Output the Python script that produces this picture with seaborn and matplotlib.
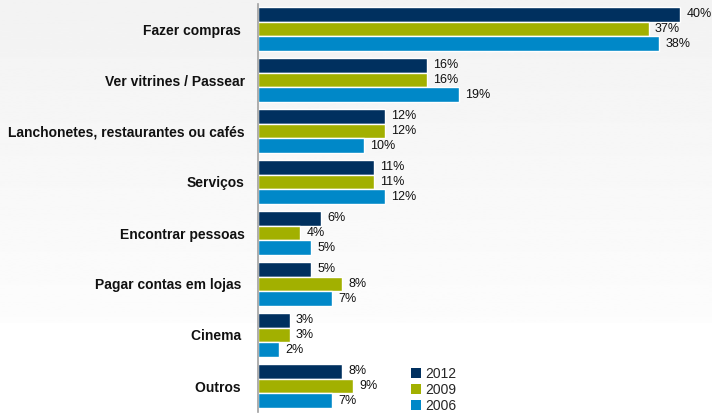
import numpy as np
import pandas as pd
import matplotlib
matplotlib.use("Agg")
import matplotlib.pyplot as plt
import seaborn as sns
from matplotlib.patches import Patch

categories = ["Fazer compras ", "Ver vitrines / Passear", "Lanchonetes, restaurantes ou cafés",
              "Serviços", "Encontrar pessoas", "Pagar contas em lojas ", "Cinema ", "Outros "]
years = ["2012", "2009", "2006"]
v2012 = [40, 16, 12, 11, 6, 5, 3, 8]
v2009 = [37, 16, 12, 11, 4, 8, 3, 9]
v2006 = [38, 19, 10, 12, 5, 7, 2, 7]
colors = ["#00305f", "#a2b000", "#0088c8"]

rows = []
for y, vals in zip(years, [v2012, v2009, v2006]):
    for c, v in zip(categories, vals):
        rows.append({"cat": c, "year": y, "val": v})
df = pd.DataFrame(rows)

sns.set_style("white")
plt.rcParams["font.family"] = ["Liberation Sans", "DejaVu Sans"]

fig = plt.figure(figsize=(7.12, 4.13), dpi=100)
fig.patch.set_facecolor("white")
bg = fig.add_axes([0, 0, 1, 1], zorder=-10)
grad = np.linspace(0.95, 1.0, 256).reshape(-1, 1)
grad[200:] = 1.0
bg.imshow(grad, aspect="auto", cmap="gray", vmin=0, vmax=1, extent=[0, 1, 0, 1])
bg.axis("off")

ax = fig.add_axes([258 / 712, 1.5 / 413, 1 - 258 / 712, 408 / 413])
ax.patch.set_alpha(0)
sns.barplot(data=df, y="cat", x="val", hue="year", palette=colors, orient="h",
            width=0.88, gap=0, ax=ax, legend=False, saturation=1)
for cont in ax.containers:
    ax.bar_label(cont, fmt="%d%%", padding=4.5, fontsize=9, color="#111111")
ax.set_xlim(0, 43)
ax.set_ylim(7.5, -0.5)
ax.set_xlabel("")
ax.set_ylabel("")
ax.set_xticks([])
for s in ["top", "right", "bottom"]:
    ax.spines[s].set_visible(False)
ax.spines["left"].set_color("#a0a0a0")
ax.spines["left"].set_linewidth(1.2)
ax.tick_params(axis="y", length=0, pad=9.5)
for lab in ax.get_yticklabels():
    lab.set_fontweight("bold")
    lab.set_fontsize(10)
    lab.set_color("#111111")

handles = [Patch(facecolor=c, edgecolor="none") for c in colors]
fig.legend(handles, years, loc="upper left", bbox_to_anchor=(404 / 712, 1 - 360 / 413),
           frameon=False, fontsize=10, handlelength=0.7, handleheight=0.7,
           handletextpad=0.3, labelspacing=0.15, borderpad=0)

fig.savefig("out.png", dpi=100)
